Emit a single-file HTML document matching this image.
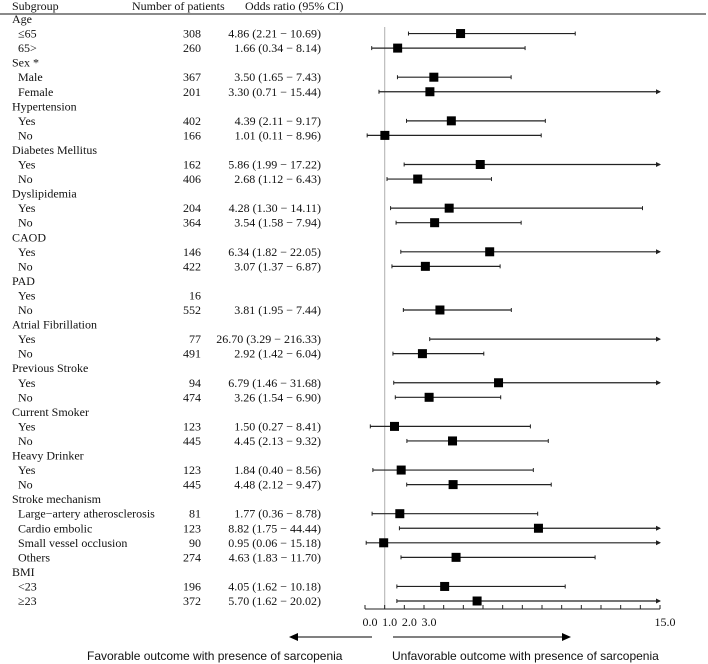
<!DOCTYPE html>
<html><head><meta charset="utf-8"><style>
body{margin:0;background:#fff}
svg{display:block}
text{font-family:"Liberation Serif",serif;font-size:12px;fill:#111}
.s{font-family:"Liberation Sans",sans-serif;font-size:12px}
</style></head><body>
<svg id="c" width="708" height="664" xmlns="http://www.w3.org/2000/svg">
<line x1="0" y1="14" x2="706" y2="14" stroke="#444" stroke-width="1.2"/>
<text x="12" y="10">Subgroup</text>
<text x="132" y="10">Number of patients</text>
<text x="245" y="10">Odds ratio (95% CI)</text>
<g id="rows"></g>
<g id="axis"></g>
<line x1="372" y1="637" x2="296" y2="637" stroke="#000" stroke-width="1"/>
<polygon points="289,637 298,633 298,641" fill="#000"/>
<line x1="393" y1="637" x2="563" y2="637" stroke="#000" stroke-width="1"/>
<polygon points="571,637 562,633 562,641" fill="#000"/>
<text class="s" x="87" y="660">Favorable outcome with presence of sarcopenia</text>
<text class="s" x="392" y="660">Unfavorable outcome with presence of sarcopenia</text>
</svg>
<script>
const labels=["Age","≤65","65>","Sex *","Male","Female","Hypertension","Yes","No","Diabetes Mellitus","Yes","No","Dyslipidemia","Yes","No","CAOD","Yes","No","PAD","Yes","No","Atrial Fibrillation","Yes","No","Previous Stroke","Yes","No","Current Smoker","Yes","No","Heavy Drinker","Yes","No","Stroke mechanism","Large−artery atherosclerosis","Cardio embolic","Small vessel occlusion","Others","BMI","<23","≥23"];
const counts=[null,308,260,null,367,201,null,402,166,null,162,406,null,204,364,null,146,422,null,16,552,null,77,491,null,94,474,null,123,445,null,123,445,null,81,123,90,274,null,196,372];
const ors=[null,4.86,1.66,null,3.50,3.30,null,4.39,1.01,null,5.86,2.68,null,4.28,3.54,null,6.34,3.07,null,null,3.81,null,26.70,2.92,null,6.79,3.26,null,1.50,4.45,null,1.84,4.48,null,1.77,8.82,0.95,4.63,null,4.05,5.70];
const lows=[null,2.21,0.34,null,1.65,0.71,null,2.11,0.11,null,1.99,1.12,null,1.30,1.58,null,1.82,1.37,null,null,1.95,null,3.29,1.42,null,1.46,1.54,null,0.27,2.13,null,0.40,2.12,null,0.36,1.75,0.06,1.83,null,1.62,1.62];
const highs=[null,10.69,8.14,null,7.43,15.44,null,9.17,8.96,null,17.22,6.43,null,14.11,7.94,null,22.05,6.87,null,null,7.44,null,216.33,6.04,null,31.68,6.90,null,8.41,9.32,null,8.56,9.47,null,8.78,44.44,15.18,11.70,null,10.18,20.02];
const tickVals=[0,1,2,3,4,5,6,7,8,9,10,11,12,13,14,15];
const tickLabels=[["0.0",0],["1.0",1],["2.0",2],["3.0",3],["15.0",15]];
const NS="http://www.w3.org/2000/svg";
const X=v=>365+Math.min(v,15)*(295/15);
const Y=i=>19+i*14.55;
function mk(tag,at,parent,txt){const e=document.createElementNS(NS,tag);for(const k in at)e.setAttribute(k,at[k]);if(txt!=null)e.textContent=txt;parent.appendChild(e);return e;}
const rows=document.getElementById('rows'),axis=document.getElementById('axis');
let ref=mk('line',{x1:X(1),y1:27,x2:X(1),y2:609,stroke:'#bbb','stroke-width':1.2},rows);


labels.forEach((l,i)=>{
 const y=Y(i)+4, isHead=counts[i]==null&&ors[i]==null&&i!==19;
 let t=mk('text',{x:isHead?12:18,y:y},rows,l);
 
 
 if(counts[i]!=null){let c=mk('text',{x:201,y:y,'text-anchor':'end'},rows,counts[i]);
  
  }
 if(ors[i]!=null){
  let o=mk('text',{x:321,y:y,'text-anchor':'end'},rows,ors[i].toFixed(2)+" ("+lows[i].toFixed(2)+" − "+highs[i].toFixed(2)+")");
  
  
  const yy=Y(i), x1=X(lows[i]), x2=X(highs[i]);
  let ln=mk('line',{x1:x1,y1:yy,x2:x2,y2:yy,stroke:'#222','stroke-width':1.2},rows);
  
  
  mk('line',{x1:x1,y1:yy-2,x2:x1,y2:yy+2,stroke:'#222'},rows);
  if(highs[i]>15){mk('polygon',{points:`${x2+1},${yy} ${x2-4},${yy-2.5} ${x2-4},${yy+2.5}`,fill:'#222'},rows);}
  else mk('line',{x1:x2,y1:yy-2,x2:x2,y2:yy+2,stroke:'#222'},rows);
  if(ors[i]<=15){
   let m=mk('rect',{x:X(ors[i])-4.5,y:yy-4.5,width:9,height:9,fill:'#000'},rows);
   
   
  }
 }
});
let ax=mk('line',{x1:X(0),y1:609,x2:X(15),y2:609,stroke:'#222','stroke-width':1},axis);


tickVals.forEach(v=>{let t=mk('line',{x1:X(v),y1:605,x2:X(v),y2:609,stroke:'#222'},axis);
 
 });
tickLabels.forEach(([s,v])=>{let t=mk('text',{x:X(v)+5,y:626,'text-anchor':'middle'},axis,s);
 
 });
</script>
</body></html>
